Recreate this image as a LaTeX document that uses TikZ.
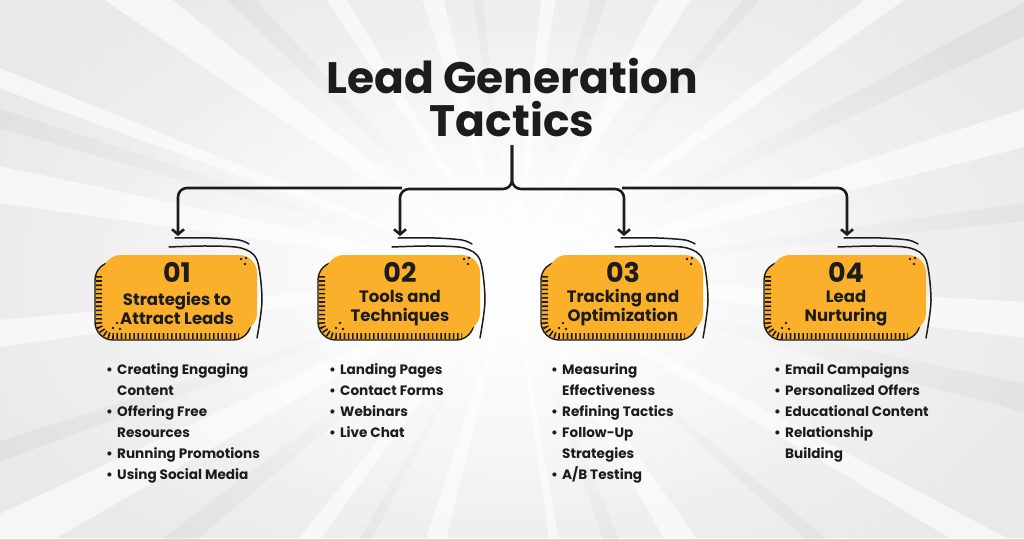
\documentclass[tikz,border=0pt]{standalone}
\usepackage{fontspec}
\setmainfont{Poppins}
\usetikzlibrary{arrows.meta,fadings,calc}
\definecolor{cardorange}{HTML}{FBB02B}
\definecolor{ink}{HTML}{1C1C1C}
\definecolor{bggray}{HTML}{E9E9E9}
\definecolor{raygray}{HTML}{D2D2D2}
\tikzfading[name=glow, inner color=transparent!0, outer color=transparent!100]
\tikzset{
  conn/.style={draw=ink, line width=2.6pt, rounded corners=9pt,
    -{Straight Barb[length=5pt,width=12pt]}},
  sketch/.style={draw=ink, line width=1.5pt, line cap=round},
  cardnum/.style={font=\fontsize{27}{30}\selectfont\bfseries, text=ink, inner sep=0pt},
  cardtitle/.style={font=\fontsize{16.5}{19}\selectfont\bfseries, text=ink, align=center, inner sep=0pt},
  blist/.style={font=\fontsize{13.6}{21}\selectfont\bfseries, text=ink, align=left, inner sep=0pt, anchor=north west},
  ttl/.style={font=\fontsize{44}{43}\selectfont\bfseries, text=ink, align=center, inner sep=0pt}
}
\newcommand\bul{\makebox[11pt][l]{•}}
\newcommand\ind{\hspace*{11pt}}
\newcommand\mkcard[4]{%
  \begin{scope}[shift={(#2,0)}]
    \filldraw[fill=cardorange, draw=ink, line width=1.4pt, rounded corners=18pt] (-82,262) rectangle (74,340);
    \draw[ink, line width=6pt, dash pattern=on 1.6pt off 2.6pt, rounded corners=14pt] (-78,276) -- (-78,336) -- (62,336);
    \fill[cardorange, rounded corners=18pt] (-74,255) rectangle (80,331);
    \draw[sketch] plot[smooth] coordinates {(-2,238) (35,238) (62,240) (72,244)};
    \draw[sketch] plot[smooth] coordinates {(-8,247) (30,246) (64,248) (80,260) (85,300) (80,338)};
    \fill[ink] (64,259) circle (1.4) (69,258) circle (1.4) (68,264) circle (1.4);
    \fill[ink] (-64,328) circle (1.4) (-60,323) circle (1.4) (-57,329) circle (1.4);
    \node[cardnum] (#1num) at (0,272) {#3};
    \node[cardtitle] (#1) at (0,308) {#4};
  \end{scope}}
\begin{document}
\begin{tikzpicture}[x=1pt,y=-1pt]
\useasboundingbox (0,0) rectangle (1024,538);
% background
\fill[bggray] (0,0) rectangle (1024,538);
\coordinate (ctr) at (512,275);
\foreach \a/\w in {3/4,28/3,55/5,80/2,104/4,126/3,150/5,172/3,188/4,200/2,214/5,236/3,252/4,276/3,298/5,322/3,342/4}{
  \fill[white, opacity=0.6] (ctr) -- +(\a:1200) -- +(\a+\w:1200) -- cycle;
}
\foreach \a/\w in {12/3,40/2,68/3,118/2,140/3,160/2,196/2,224/3,262/2,286/3,310/2,332/3,352/2}{
  \fill[raygray, opacity=0.35] (ctr) -- +(\a:1200) -- +(\a+\w:1200) -- cycle;
}
\fill[white, path fading=glow] (ctr) ellipse (600 and 360);
\fill[white, opacity=0.7, path fading=glow] (ctr) ellipse (420 and 260);

% title
\node[ttl] (title) at (512,98) {Lead Generation\\Tactics};
\coordinate (stem) at (512,145);
\coordinate (a1) at (178,236);
\coordinate (a2) at (400,236);
\coordinate (a3) at (624,236);
\coordinate (a4) at (847,236);
\coordinate (o1) at (402,188);
\coordinate (o4) at (622,188);

% cards
\mkcard{c1}{177}{01}{Strategies to\\Attract Leads}
\mkcard{c2}{400}{02}{Tools and\\Techniques}
\mkcard{c3}{623}{03}{Tracking and\\Optimization}
\mkcard{c4}{846}{04}{Lead\\Nurturing}

% connectors
\draw[conn] (stem) -- (512,189) -| (a2);
\draw[conn] (stem) -- (512,189) -| (a3);
\draw[conn] (o1) -| (a1);
\draw[conn] (o4) -| (a4);

% lists
\node[blist] (l1) at (106,363) {\bul Creating Engaging\\\ind Content\\\bul Offering Free\\\ind Resources\\\bul Running Promotions\\\bul Using Social Media};
\node[blist] (l2) at (329,363) {\bul Landing Pages\\\bul Contact Forms\\\bul Webinars\\\bul Live Chat};
\node[blist] (l3) at (551,363) {\bul Measuring\\\ind Effectiveness\\\bul Refining Tactics\\\bul Follow-Up\\\ind Strategies\\\bul A/B Testing};
\node[blist] (l4) at (774,363) {\bul Email Campaigns\\\bul Personalized Offers\\\bul Educational Content\\\bul Relationship\\\ind Building};
\end{tikzpicture}
\end{document}
